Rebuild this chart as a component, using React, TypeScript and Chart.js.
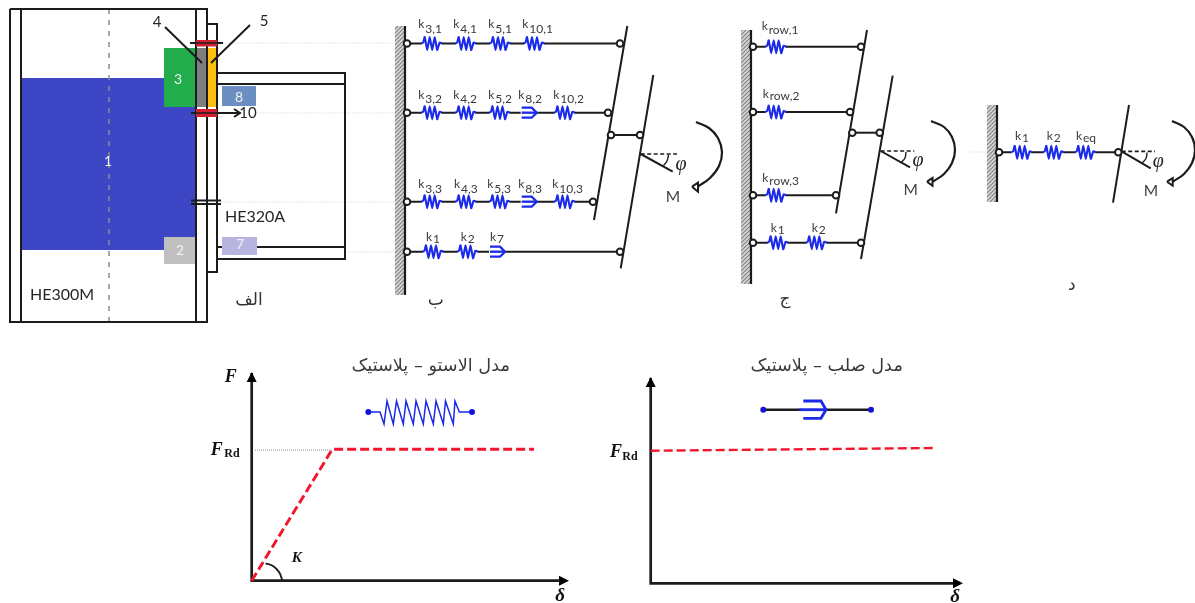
import React, { useEffect, useRef } from "react";
import { Chart, registerables } from "chart.js";

Chart.register(...registerables);

type P = [number, number];

// ---- Panel (a): joint elevation
const blueZone = [22, 78, 195, 250];
const greenZone = [164, 48, 195, 107];
const greyZone = [164, 237, 195, 264];
const plateGrey = [196, 48, 207, 107];
const plateYellow = [207, 48, 217, 107];
const zone8 = [222, 86, 256, 106];
const zone7 = [222, 237, 257, 255];
const boltTop = [196, 40, 217, 46.5];
const boltBottom = [196, 109, 217, 117];
const sectionLines: P[][] = [
  [[10, 9], [207, 9], [207, 322], [10, 322], [10, 9]],
  [[21, 9], [21, 322]],
  [[196, 9], [196, 322]],
  [[207, 24], [217, 24], [217, 272], [207, 272]],
  [[217, 73], [345, 73], [345, 259], [217, 259]],
  [[217, 84], [345, 84]],
  [[217, 247], [345, 247]],
  [[190, 43], [223, 43]],
  [[191, 113], [239, 113]],
  [[234, 109], [240, 113], [234, 117]],
  [[191, 200.5], [221, 200.5]],
  [[191, 204], [221, 204]],
  [[165, 27], [202, 63]],
  [[250, 25], [211, 63]],
];
const centerLine: P[] = [[109, 9], [109, 322]];
const faintLines: P[][] = [
  [[223, 43], [395, 43]],
  [[256, 113], [395, 113]],
  [[221, 202], [395, 202]],
  [[345, 252], [395, 252]],
  [[970, 152], [994, 152]],
];

// ---- Panels (b), (c), (d): spring models
const walls = [
  [395, 26, 405, 295],
  [741, 30, 751, 284],
  [987, 105, 997, 202],
];
const wallEdges: P[][] = [
  [[405, 26], [405, 295]],
  [[751, 30], [751, 284]],
  [[997, 105], [997, 202]],
];
const rows: P[][] = [
  [[407, 43.5], [620, 43.5]],
  [[407, 112.7], [608, 112.7]],
  [[407, 201.7], [593, 201.7]],
  [[407, 251.7], [620, 251.7]],
  [[611, 135], [640, 135]],
  [[753, 46.7], [861, 46.7]],
  [[753, 112], [850, 112]],
  [[753, 195.3], [836, 195.3]],
  [[753, 242.7], [861, 242.7]],
  [[852, 132.7], [880, 132.7]],
  [[999, 152.3], [1118, 152.3]],
];
const rigidBars: P[][] = [
  [[627.3, 26], [594, 220]],
  [[653.3, 75], [620.7, 268.3]],
  [[867, 30], [836, 213.3]],
  [[892.7, 75.7], [861, 259]],
  [[1129, 105], [1113, 202.7]],
  [[640.7, 154], [672.7, 171.7]],
  [[880.7, 151], [910, 167.3]],
  [[1121.7, 151.3], [1150.7, 168.3]],
];
const rotationRefs: P[][] = [
  [[640.7, 154], [677, 154]],
  [[880.7, 151], [914.3, 151]],
  [[1121.7, 151.3], [1155, 151.3]],
];
const angleArcs: P[][] = [
  [[668.5, 155], [667, 161], [663.5, 165.5]],
  [[906, 152], [905, 158], [901, 162.5]],
  [[1147, 152.5], [1146, 158.5], [1142, 163]],
];
const momentArcs: P[][] = [
  [[696, 122], [709, 128], [718, 138], [722, 152], [719, 166], [710, 178], [698, 186.5]],
  [[931, 121], [944, 127], [952, 137], [955, 150], [952, 163], [944, 174], [933, 181.5]],
  [[1172, 121], [1184, 127], [1192, 137], [1195, 150], [1192, 163], [1184, 174], [1173, 181.5]],
];
const momentHeads: P[][] = [
  [[692, 186.7], [698, 182.7], [698, 191.7], [692, 186.7]],
  [[927, 181.7], [932.5, 178], [932.5, 185.7], [927, 181.7]],
  [[1167, 181.7], [1172.7, 178], [1172.7, 185.7], [1167, 181.7]],
];
const hinges: P[] = [
  [407, 43.5], [407, 112.7], [407, 201.7], [407, 251.7],
  [620, 43.5], [608, 112.7], [593, 201.7], [620, 251.7],
  [611, 135], [640, 135],
  [753, 46.7], [753, 112], [753, 195.3], [753, 242.7],
  [861, 46.7], [850, 112], [836, 195.3], [861, 242.7],
  [852.3, 132.7], [879.7, 132.7],
  [999, 152.3], [1118.3, 152.3],
];
const springs: P[] = [
  [431.7, 43.5], [465.7, 43.5], [500, 43.5], [534, 43.5],
  [431.7, 112.7], [465.7, 112.7], [499.5, 112.7], [564.5, 112.7],
  [431.7, 201.7], [465.7, 201.7], [499.5, 201.7], [564.5, 201.7],
  [433, 251.7], [467.5, 251.7],
  [775.7, 46.7], [775.7, 112], [775.7, 195.3],
  [777.7, 242.7], [816.3, 242.7],
  [1021.7, 152.3], [1053.3, 152.3], [1085.3, 152.3],
];
const springShape: P[] = [
  [-10.5, 0], [-8.5, -1], [-7, -6.5], [-4.5, 6.5], [-2, -6.5], [0.5, 6.5], [3, -6.5], [5.5, 6.5], [8, -1], [10.5, 0],
];
const forks: P[] = [[521.7, 112.7], [521.7, 201.7], [490, 251.7]];
const forkShape: P[] = [[0, -5], [10, -5], [15, 0], [10, 5], [0, 5]];
const forkStem: P[] = [[0, 0], [15, 0]];

// label suffix, x, baseline of k, baseline of suffix
const stiffnessLabels: [string, number, number, number][] = [
  ["3,1", 418.3, 28, 33], ["4,1", 453.3, 28, 33], ["5,1", 488.3, 28, 33], ["10,1", 522.3, 28, 33],
  ["3,2", 418.3, 99, 102.5], ["4,2", 453.3, 99, 102.5], ["5,2", 488.3, 99, 102.5], ["8,2", 518.3, 99, 102.5], ["10,2", 553.3, 99, 102.5],
  ["3,3", 418.3, 188, 193], ["4,3", 454, 188, 193], ["5,3", 487.3, 188, 193], ["8,3", 518.3, 188, 193], ["10,3", 552.3, 188, 193],
  ["1", 426, 241, 243], ["2", 460.7, 241, 243], ["7", 490, 241, 243],
  ["row,1", 761.7, 30, 34], ["row,2", 762.7, 97.5, 100], ["row,3", 762.3, 182, 185],
  ["1", 770.7, 232, 234], ["2", 811.7, 232, 234],
  ["1", 1015, 140, 142], ["2", 1046.7, 140, 142], ["eq", 1076, 140, 142],
];

// ---- Lower panels: behaviour laws
const axesLeft: P[] = [[251.7, 373], [251.7, 580.7], [564, 580.7]];
const axesRight: P[] = [[650.7, 378], [650.7, 583.3], [958, 583.3]];
const axisHeads: P[][] = [
  [[246.7, 382], [251.7, 372], [256.7, 382], [246.7, 382]],
  [[559, 575.7], [569, 580.7], [559, 585.7], [559, 575.7]],
  [[645.7, 387], [650.7, 377], [655.7, 387], [645.7, 387]],
  [[953, 578.3], [963, 583.3], [953, 588.3], [953, 578.3]],
];
const elastoPlastic: P[] = [[251.7, 580.7], [332.3, 449.3], [534, 449.3]];
const rigidPlastic: P[] = [[650.7, 450.7], [933.3, 448]];
const yieldGuide: P[] = [[255, 450], [332, 450]];
const stiffnessArc: P[] = [[265.7, 563.3], [273, 566], [279, 572], [282.3, 580]];
const springIcon: P[] = [
  [368.3, 412], [380, 412], [384, 424], [387, 401], [393.3, 424], [396.5, 401], [403.3, 424], [406, 401],
  [413.3, 424], [416, 401], [423.3, 424], [426, 401], [433.3, 424], [436, 401], [443.3, 424], [445.5, 401],
  [453.3, 424], [455, 401], [459.3, 412], [472, 412],
];
const rigidIconBar: P[] = [[763.3, 409.7], [871, 409.7]];
const forkIcon: P[] = [[803.3, 401], [821, 401], [826, 409.7], [821, 418.3], [803.3, 418.3]];
const forkIconStem: P[] = [[799.3, 409.7], [826, 409.7]];
const iconDots: P[] = [[368.3, 412], [472, 412], [763.3, 409.7], [871, 409.7]];

// text, x, y
const zoneWhiteLabels: [string, number, number][] = [
  ["1", 108, 161], ["2", 180, 250], ["3", 178, 79], ["7", 240, 244], ["8", 239, 97],
];
const darkLabels: [string, number, number][] = [
  ["4", 157, 22], ["5", 264, 21], ["10", 248, 113], ["HE320A", 255, 217], ["HE300M", 62, 295],
  ["M", 673, 197], ["M", 910.7, 190], ["M", 1151, 191],
];
const phiLabels: P[] = [[681, 165], [918, 160.7], [1158.3, 161.7]];
const panelCaptions: [string, number, number][] = [
  ["الف", 249, 301], ["ب", 435.7, 301], ["ج", 785, 300], ["د", 1071.7, 286],
];
const modelTitles: [string, number, number][] = [
  ["مدل الاستو – پلاستیک", 430.7, 366],
  ["مدل صلب – پلاستیک", 826.7, 366],
];
const axisF: P[] = [[230.7, 377], [216.7, 450], [616, 452]];
const axisRd: P[] = [[232, 453.5], [630, 456.5]];
const axisDelta: P[] = [[560, 595.7], [955, 596.7]];
const axisK: P = [296.7, 558];

const rect = (r: number[]): P[] => [[r[0], r[1]], [r[2], r[1]], [r[2], r[3]], [r[0], r[3]], [r[0], r[1]]];
const xy = (pts: P[]) => pts.map(([x, y]) => ({ x, y }));
const place = (shape: P[], at: P): P[] => shape.map(([x, y]) => [x + at[0], y + at[1]]);

export default function App() {
  const ref = useRef<HTMLCanvasElement | null>(null);
  useEffect(() => {
    const canvas = ref.current!;
    const tile = document.createElement("canvas");
    tile.width = 4;
    tile.height = 4;
    const t = tile.getContext("2d")!;
    t.fillStyle = "#d8d8d8";
    t.fillRect(0, 0, 4, 4);
    t.strokeStyle = "#808080";
    t.lineWidth = 1.1;
    t.beginPath();
    t.moveTo(-1, 1); t.lineTo(1, -1);
    t.moveTo(-1, 5); t.lineTo(5, -1);
    t.moveTo(3, 5); t.lineTo(5, 3);
    t.stroke();
    const hatch = canvas.getContext("2d")!.createPattern(tile, "repeat")!;

    const datasets: any[] = [];
    const line = (pts: P[], color: string, width: number, extra: any = {}) =>
      datasets.push({ data: xy(pts), showLine: true, borderColor: color, borderWidth: width, pointRadius: 0, fill: false, ...extra });
    const area = (pts: P[], color: any) =>
      datasets.push({ data: xy(pts), showLine: true, borderWidth: 0, borderColor: "transparent", backgroundColor: color, pointRadius: 0, fill: "shape" });

    const BLACK = "#1c1c1c";
    const BLUE = "#1a2ae8";
    const RED = "#f0162c";

    faintLines.forEach((l) => line(l, "#dcdcdc", 1, { borderDash: [1.5, 1.5] }));
    area(rect(blueZone), "#3d47c6");
    area(rect(greenZone), "#22ad4d");
    area(rect(greyZone), "#bfbfbf");
    area(rect(plateGrey), "#7f7f7f");
    area(rect(plateYellow), "#fdbe0f");
    line(centerLine, "#8c8c8c", 1.5, { borderDash: [5, 6] });
    sectionLines.forEach((l) => line(l, BLACK, 2));
    area(rect(boltTop), "#d0202e");
    area(rect(boltBottom), "#d0202e");
    line([[190, 43], [223, 43]], BLACK, 1.4);
    line([[191, 113], [239, 113]], BLACK, 1.6);
    area(rect(zone8), "#6b8fc1");
    area(rect(zone7), "#b7b4e0");

    walls.forEach((w) => area(rect(w), hatch));
    wallEdges.forEach((l) => line(l, BLACK, 2.2));
    rows.forEach((l) => line(l, BLACK, 2));
    rigidBars.forEach((l) => line(l, BLACK, 2));
    rotationRefs.forEach((l) => line(l, BLACK, 1.7, { borderDash: [4, 2.5] }));
    angleArcs.forEach((l) => line(l, BLACK, 1.4, { tension: 0.4 }));
    momentArcs.forEach((l) => line(l, BLACK, 2.2, { tension: 0.4 }));
    momentHeads.forEach((l) => {
      area(l, "#ffffff");
      line(l, BLACK, 2);
    });
    springs.forEach((s) => {
      line([[s[0] - 10, s[1]], [s[0] + 10, s[1]]], "#ffffff", 3);
      line(place(springShape, s), BLUE, 2.1, { tension: 0.15 });
    });
    forks.forEach((f) => {
      line([[f[0] - 1, f[1]], [f[0] + 15, f[1]]], "#ffffff", 3);
      line(place(forkShape, f), BLUE, 2.3);
      line(place(forkStem, f), BLUE, 2.3);
    });
    datasets.push({
      data: xy(hinges), showLine: false, pointRadius: 3.3, pointBorderWidth: 2,
      pointBackgroundColor: "#ffffff", pointBorderColor: BLACK,
    });

    line(yieldGuide, "#8a8a8a", 1, { borderDash: [1, 1] });
    line(axesLeft, BLACK, 2.7);
    line(axesRight, BLACK, 2.7);
    axisHeads.forEach((l) => area(l, "#000000"));
    line(stiffnessArc, BLACK, 1.9, { tension: 0.4 });
    line(elastoPlastic, RED, 2.9, { borderDash: [9, 4] });
    line(rigidPlastic, RED, 2.4, { borderDash: [9, 4] });
    line(springIcon, BLUE, 1.5);
    line(rigidIconBar, BLACK, 2.4);
    line([[801, 409.7], [826, 409.7]], "#ffffff", 3);
    line(forkIcon, BLUE, 2.8);
    line(forkIconStem, BLUE, 2.8);
    datasets.push({
      data: xy(iconDots), showLine: false, pointRadius: 3, pointBorderWidth: 0, pointBackgroundColor: "#1414d8",
    });

    datasets.forEach((d, i) => (d.order = -i));

    const textPlugin = {
      id: "diagramText",
      afterDatasetsDraw(chart: any) {
        const { ctx, scales } = chart;
        const X = (v: number) => scales.x.getPixelForValue(v);
        const Y = (v: number) => scales.y.getPixelForValue(v);
        const put = (s: string, x: number, y: number, font: string, color: string, align = "center", base = "middle", dir = "ltr") => {
          ctx.font = font;
          ctx.fillStyle = color;
          ctx.textAlign = align;
          ctx.textBaseline = base;
          ctx.direction = dir;
          ctx.fillText(s, X(x), Y(y));
        };
        ctx.save();
        zoneWhiteLabels.forEach(([s, x, y]) => put(s, x, y, "14px Lato", "#f2f2f2"));
        darkLabels.forEach(([s, x, y]) => {
          const big = s.startsWith("HE");
          put(s, x, y, big ? "16px Lato" : s === "M" ? "15.5px Lato" : "15px Lato", s === "M" ? "#404040" : "#262626");
        });
        stiffnessLabels.forEach(([s, x, ky, sy]) => {
          put("k", x, ky, "12px Lato", "#3a3a3a", "left", "alphabetic");
          put(s, x + 7, sy, "12px Lato", "#3a3a3a", "left", "alphabetic");
        });
        phiLabels.forEach(([x, y]) => put("φ", x, y, "italic 20px 'Liberation Serif'", "#262626"));
        panelCaptions.forEach(([s, x, y]) => put(s, x, y, "17px 'DejaVu Sans'", "#333333", "center", "middle", "rtl"));
        modelTitles.forEach(([s, x, y]) => put(s, x, y, "17.7px 'DejaVu Sans'", "#3a3a3a", "center", "middle", "rtl"));
        const math = "italic bold 18px 'Liberation Serif'";
        axisF.forEach(([x, y]) => put("F", x, y, math, "#111111"));
        axisRd.forEach(([x, y]) => put("Rd", x, y, "bold 12px 'Liberation Serif'", "#111111"));
        axisDelta.forEach(([x, y]) => put("δ", x, y, "italic bold 19px 'Liberation Serif'", "#111111"));
        put("K", axisK[0], axisK[1], "italic bold 15px 'Liberation Serif'", "#111111");
        ctx.restore();
      },
    };

    const chart = new Chart(canvas, {
      type: "scatter",
      data: { datasets },
      plugins: [textPlugin],
      options: {
        animation: false,
        responsive: false,
        events: [],
        layout: { padding: 0, autoPadding: false },
        clip: false,
        plugins: { legend: { display: false }, tooltip: { enabled: false } },
        scales: {
          x: { type: "linear", display: false, min: 0, max: 1195 },
          y: { type: "linear", display: false, min: 0, max: 603, reverse: true },
        },
      },
    } as any);
    return () => chart.destroy();
  }, []);
  return (
    <div style={{ position: "absolute", left: 0, top: 0, width: 1195, height: 603, background: "#ffffff" }}>
      <canvas ref={ref} width={1195} height={603} style={{ display: "block", filter: "blur(0.5px)" }} />
    </div>
  );
}
